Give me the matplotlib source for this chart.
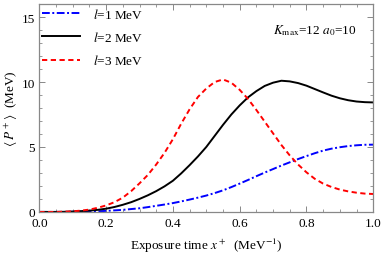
import numpy as np
import matplotlib
matplotlib.use("Agg")
from matplotlib import pyplot as plt
from matplotlib.ticker import MultipleLocator

# data (x step 0.025)
x_plus = [0.0, 0.025, 0.05, 0.075, 0.1, 0.125, 0.15, 0.175, 0.2, 0.225,
          0.25, 0.275, 0.3, 0.325, 0.35, 0.375, 0.4, 0.425, 0.45, 0.475,
          0.5, 0.525, 0.55, 0.575, 0.6, 0.625, 0.65, 0.675, 0.7, 0.725,
          0.75, 0.775, 0.8, 0.825, 0.85, 0.875, 0.9, 0.925, 0.95, 0.975, 1.0]
p_l1 = [0.0, 0.0, 0.0, 0.0, 0.01, 0.02, 0.03, 0.05, 0.08, 0.12,
        0.16, 0.22, 0.28, 0.37, 0.47, 0.57, 0.68, 0.81, 0.95, 1.1,
        1.26, 1.45, 1.66, 1.91, 2.18, 2.46, 2.75, 3.03, 3.3, 3.57,
        3.82, 4.07, 4.3, 4.52, 4.72, 4.87, 4.98, 5.07, 5.13, 5.17, 5.18]
p_l2 = [0.0, 0.0, 0.0, 0.01, 0.03, 0.06, 0.1, 0.16, 0.25, 0.38,
        0.55, 0.75, 1.0, 1.28, 1.6, 1.97, 2.4, 2.97, 3.6, 4.27,
        5.0, 5.85, 6.7, 7.5, 8.2, 8.82, 9.3, 9.7, 9.95, 10.1,
        10.05, 9.92, 9.72, 9.46, 9.2, 8.95, 8.75, 8.6, 8.5, 8.45, 8.43]
p_l3 = [0.0, 0.0, 0.0, 0.02, 0.05, 0.1, 0.18, 0.32, 0.5, 0.75,
        1.1, 1.6, 2.2, 2.85, 3.65, 4.55, 5.6, 6.8, 7.9, 8.85,
        9.5, 10.0, 10.2, 9.95, 9.4, 8.7, 7.85, 6.95, 6.05, 5.15,
        4.35, 3.65, 3.05, 2.55, 2.18, 1.92, 1.72, 1.58, 1.48, 1.41, 1.38]
labels = [r"$l$=1 MeV", r"$l$=2 MeV", r"$l$=3 MeV"]

plt.rcParams['font.family'] = 'Liberation Serif'
plt.rcParams['mathtext.fontset'] = 'stix'
plt.rcParams['font.size'] = 9.5

fig = plt.figure(figsize=(3.82, 2.55), dpi=100)
ax = fig.add_axes([0.103, 0.165, 0.874, 0.815])

ax.plot(x_plus, p_l1, color='blue', lw=1.4, dashes=(4, 1.3, 1, 1.3), label=labels[0])
ax.plot(x_plus, p_l2, color='black', lw=1.4, label=labels[1])
ax.plot(x_plus, p_l3, color='red', lw=1.4, dashes=(2.7, 1.8), label=labels[2])

ax.set_xlim(0, 1)
ax.set_ylim(0, 16)
ax.xaxis.set_major_locator(MultipleLocator(0.2))
ax.xaxis.set_minor_locator(MultipleLocator(0.05))
ax.yaxis.set_major_locator(MultipleLocator(5))
ax.yaxis.set_minor_locator(MultipleLocator(1))
ax.xaxis.set_major_formatter(plt.FuncFormatter(lambda v, p: f"{v:.1f}"))

ax.tick_params(which='both', direction='in', top=True, right=True, color='#888888')
ax.tick_params(which='major', length=4, width=0.7)
ax.tick_params(which='minor', length=2.5, width=0.6)
ax.tick_params(axis='y', pad=3)
for s in ax.spines.values():
    s.set_color('#888888')
    s.set_linewidth(0.9)

ax.set_xlabel(r"Exposure time $x^+$  (MeV$^{-1}$)", labelpad=5)
ax.set_ylabel(r"$\langle\; P^+ \rangle$  (MeV)", labelpad=1)

ax.text(0.95, 0.875, r"$K_{\rm max}$=12 $a_0$=10", transform=ax.transAxes,
        ha='right', va='center')

ax.legend(loc='upper left', frameon=False, handlelength=2.9, labelspacing=0.7,
          handletextpad=0.95, borderaxespad=0.15, borderpad=0.05)

fig.savefig("out.png", dpi=100)
